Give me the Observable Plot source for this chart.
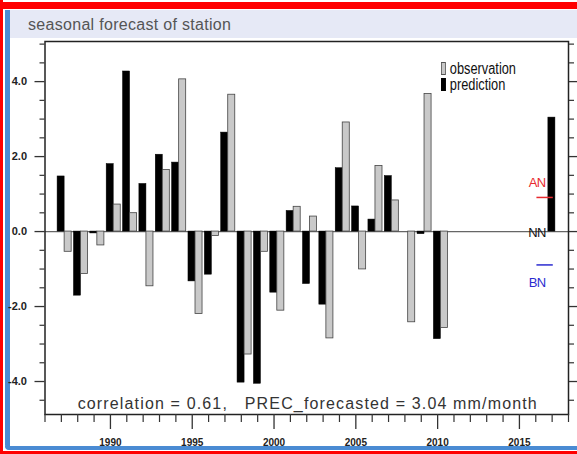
<!DOCTYPE html>
<html><head><meta charset="utf-8">
<script src="https://cdn.jsdelivr.net/npm/d3@7"></script>
<script src="https://cdn.jsdelivr.net/npm/@observablehq/plot@0.6"></script>
<style>
html,body{margin:0;padding:0;background:#fff;}
#wrap{position:relative;width:577px;height:454px;overflow:hidden;background:#fff;font-family:"Liberation Sans",Arial,sans-serif;}
.abs{position:absolute;}
#redTop{left:0;top:2px;width:577px;height:7px;background:#ff0000;}
#redLeft{left:0;top:0;width:3px;height:454px;background:#ff0000;}
#redBottom{left:0;top:451px;width:577px;height:3px;background:#ff0000;}
#blueLeft{left:5px;top:10px;width:5px;height:440px;background:#4a8bd3;border-bottom-left-radius:5px;}
#blueBottom{left:5px;top:446px;width:572px;height:4px;background:#4a8bd3;border-bottom-left-radius:5px;}
#titleBar{left:10px;top:10px;width:567px;height:28px;background:#e6e9f6;}
#title{left:28px;top:16px;font-size:16px;color:#555;letter-spacing:0.3px;white-space:nowrap;}
#chart{left:0;top:0;}
.leg{position:absolute;left:441px;font-family:"Liberation Sans",Arial,sans-serif;font-size:16px;color:#111;white-space:nowrap;line-height:15px;transform:scaleX(0.8);transform-origin:0 0;}
.leg i{display:inline-block;width:4px;height:11px;margin-right:5px;vertical-align:-1px;}
</style>
</head><body>
<div id="wrap">
  <div class="abs" id="redLeft"></div>
  <div class="abs" id="redTop"></div>
  <div class="abs" id="titleBar"></div>
  <div class="abs" id="title">seasonal forecast of station</div>
  <div class="abs" id="blueLeft"></div>
  <div class="abs" id="blueBottom"></div>
  <div class="abs" id="redBottom"></div>
  <div class="abs" id="chart"></div>
  <div class="leg" style="top:61px"><i style="background:#c8c8c8;border:1px solid #555;"></i>observation</div>
  <div class="leg" style="top:77px"><i style="background:#000;border:1px solid #000;"></i>prediction</div>
</div>
<script>
// ---- data ----
const years = [1987,1988,1989,1990,1991,1992,1993,1994,1995,1996,1997,1998,1999,2000,2001,2002,2003,2004,2005,2006,2007,2008,2009,2010];
const prediction = [1.47,-1.71,-0.05,1.80,4.27,1.27,2.05,1.84,-1.33,-1.15,2.64,-4.03,-4.06,-1.63,0.55,-1.40,-1.95,1.69,0.67,0.32,1.48,0.00,-0.07,-2.87];
const observation = [-0.54,-1.13,-0.37,0.72,0.49,-1.46,1.64,4.06,-2.20,-0.12,3.65,-3.28,-0.54,-2.11,0.66,0.40,-2.85,2.91,-1.01,1.75,0.83,-2.42,3.67,-2.57];
const forecastYear = 2017;
const forecastValue = 3.04;
const correlation = 0.61;
const categoryLabels = ["AN","NN","BN"];
const categoryValues = [0.91, 0.0, -0.89];
const categoryColors = ["#e8292e","#111111","#2b2bd0"];
const yMajorTicks = [-4,-2,0,2,4];
const xMajorTicks = [1990,1995,2000,2005,2010,2015];

// ---- tables ----
const predRows = years.map((y,i)=>({year:y, value:prediction[i]})).concat([{year:forecastYear, value:forecastValue}]);
const obsRows = years.map((y,i)=>({year:y, value:observation[i]}));
const cats = categoryLabels.map((l,i)=>({label:l, value:categoryValues[i], color:categoryColors[i]}));
const lines = cats.filter(c=>c.label!=="NN");
const caption = `correlation = ${correlation.toFixed(2)},   PREC_forecasted = ${forecastValue.toFixed(2)} mm/month`;

const yMinor = d3.range(-4.5, 5.01, 0.5).filter(v=>!yMajorTicks.includes(v));
const xMinor = d3.range(1986, 2019, 1).filter(v=>!xMajorTicks.includes(v));
const tickColor = "#333";
const catText = (label, dy) => Plot.text(cats.filter(c=>c.label===label), {x:forecastYear-0.92, y:"value", text:"label", fill:"color", fontSize:13, textAnchor:"middle", dy});

const plot = Plot.plot({
  width: 577, height: 454,
  marginLeft: 44.5, marginRight: 9, marginTop: 41, marginBottom: 40,
  style: {background:"transparent", overflow:"visible", fontFamily:"'Liberation Sans',Arial,sans-serif"},
  x: {domain:[1986,2018]},
  y: {domain:[-4.88,5.07]},
  marks: [
    Plot.ruleY([0], {stroke:"#666", strokeWidth:1.3}),
    Plot.rectY(predRows, {x1:d=>d.year-0.23, x2:d=>d.year+0.2, y:"value", fill:"#000", stroke:"#000", strokeWidth:0.5}),
    Plot.rectY(obsRows, {x1:d=>d.year+0.2, x2:d=>d.year+0.63, y:"value", fill:"#c9c9c9", stroke:"#444", strokeWidth:0.8}),
    Plot.ruleY(lines, {y:"value", x1:forecastYear-0.93, x2:forecastYear+0.07, stroke:"color", strokeWidth:1.5}),
    catText("AN", -15),
    catText("NN", 1),
    catText("BN", 18),
    Plot.text([caption], {frameAnchor:"bottom", dy:-6, dx:1, lineAnchor:"bottom", fontSize:16, fill:"#333"}),
    Plot.frame({stroke:"#222", strokeWidth:1.5}),
    Plot.axisY({ticks:yMajorTicks, tickSize:10, tickPadding:8, tickFormat:d=>d.toFixed(1), fontSize:11, fontWeight:"bold", stroke:tickColor, strokeWidth:1.3, fill:"#222", label:null}),
    Plot.axisY({ticks:yMinor, tickSize:5, text:null, stroke:tickColor, strokeWidth:1.2, label:null}),
    Plot.axisY({anchor:"right", ticks:yMajorTicks, tickSize:10, text:null, stroke:tickColor, strokeWidth:1.3, label:null}),
    Plot.axisY({anchor:"right", ticks:yMinor, tickSize:5, text:null, stroke:tickColor, strokeWidth:1.2, label:null}),
    Plot.axisX({ticks:xMajorTicks, tickSize:15, tickPadding:9, tickFormat:d=>String(d), fontSize:10, fontWeight:"bold", stroke:tickColor, strokeWidth:1.3, fill:"#222", label:null}),
    Plot.axisX({ticks:xMinor, tickSize:8, text:null, stroke:tickColor, strokeWidth:1.2, label:null})
  ]
});
// widen the caption's letter spacing and narrow the category labels, as in the reference
d3.select(plot).selectAll("text").each(function(){
  const t = this.textContent;
  if (t === caption) this.setAttribute("letter-spacing", "1.15");
  if (categoryLabels.includes(t)) this.setAttribute("letter-spacing", "-0.6");
});
document.getElementById("chart").appendChild(plot);
</script>
</body></html>
